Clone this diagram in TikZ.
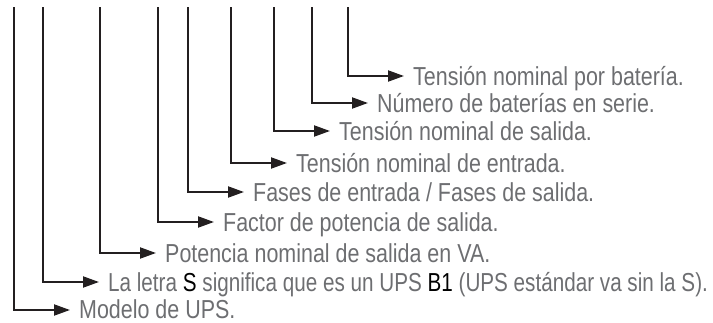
\documentclass[tikz,border=0pt]{standalone}
\usepackage{fontspec}
\setmainfont[FakeStretch=0.825]{Liberation Sans}
\newfontfamily\longfont[FakeStretch=0.795]{Liberation Sans}
\usetikzlibrary{arrows.meta}
\definecolor{linec}{HTML}{231F20}
\definecolor{textc}{HTML}{6D6E71}
\begin{document}
\begin{tikzpicture}[x=1pt,y=-1pt,
  conn/.style={draw=linec,line width=2pt,-{Triangle[length=16pt,width=11pt]}},
  lbl/.style={anchor=base west,inner sep=0pt,text=textc,font=\fontsize{26}{30}\selectfont}]
\useasboundingbox (0,0) rectangle (713,322);
% tops
\coordinate (t1) at (14,7);
\coordinate (t2) at (43,7);
\coordinate (t3) at (100,7);
\coordinate (t4) at (158,7);
\coordinate (t5) at (188,7);
\coordinate (t6) at (231,7);
\coordinate (t7) at (274,7);
\coordinate (t8) at (312,7);
\coordinate (t9) at (348,7);
% labels
\node[lbl] (l9) at (413,85) {Tensión nominal por batería.};
\node[lbl] (l8) at (377,112) {Número de baterías en serie.};
\node[lbl] (l7) at (339,140) {Tensión nominal de salida.};
\node[lbl] (l6) at (296,172) {Tensión nominal de entrada.};
\node[lbl] (l5) at (253,201) {Fases de entrada / Fases de salida.};
\node[lbl] (l4) at (223,231) {Factor de potencia de salida.};
\node[lbl] (l3) at (165,262) {Potencia nominal de salida en VA.};
\node[lbl] (l2) at (108,291) {\longfont La letra \textcolor{black}{S} significa que es un UPS \textcolor{black}{B1} (UPS estándar va sin la S).};
\node[lbl] (l1) at (79,318) {Modelo de UPS.};
% connectors
\draw[conn] (t9) |- ([xshift=-9pt]l9.west |- 0,76);
\draw[conn] (t8) |- ([xshift=-9pt]l8.west |- 0,103);
\draw[conn] (t7) |- ([xshift=-9pt]l7.west |- 0,131);
\draw[conn] (t6) |- ([xshift=-9pt]l6.west |- 0,163);
\draw[conn] (t5) |- ([xshift=-9pt]l5.west |- 0,192);
\draw[conn] (t4) |- ([xshift=-9pt]l4.west |- 0,222);
\draw[conn] (t3) |- ([xshift=-9pt]l3.west |- 0,253);
\draw[conn] (t2) |- ([xshift=-9pt]l2.west |- 0,282);
\draw[conn] (t1) |- ([xshift=-9pt]l1.west |- 0,310);
\end{tikzpicture}
\end{document}
